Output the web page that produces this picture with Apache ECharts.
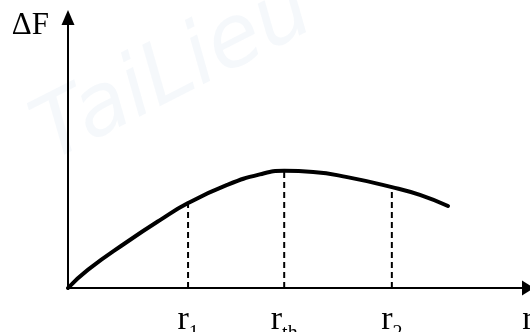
<!DOCTYPE html>
<html>
<head>
<meta charset="utf-8">
<script src="https://cdn.jsdelivr.net/npm/echarts@6/dist/echarts.min.js"></script>
<style>
  html, body { margin: 0; padding: 0; background: #fff; }
  #chart { width: 530px; height: 332px; }
</style>
</head>
<body>
<div id="chart"></div>
<script>
// Free-energy curve ΔF(r): rises from the origin, peaks at r_th, then falls.
const curveR  = [0, 0.43, 1.28, 2.00, 2.61, 3.46, 4.17, 4.70, 5.33, 6.07, 7.04, 7.65, 8.26];
const curveDF = [0, 0.67, 1.70, 2.51, 3.14, 3.81, 4.20, 4.33, 4.29, 4.10, 3.73, 3.44, 3.03];

// Marked radii (r1, r_th, r2) and the curve height at each of them.
const markR  = [2.61, 4.70, 7.04];
const markDF = [3.14, 4.33, 3.73];

// Axis tick labels: main letter plus subscript.
const tickValues = [2.61, 4.70, 7.04, 10];
const tickMain   = ['r', 'r', 'r', 'r'];
const tickSub    = ['1', 'th', '2', ''];

const axisName = 'ΔF';
const watermark = 'TaiLieu';

const serif = '"Liberation Serif", "DejaVu Serif", serif';

const chart = echarts.init(document.getElementById('chart'), null, { renderer: 'canvas' });

const series = [];
markR.forEach(function (x, i) {
  series.push({
    type: 'line',
    data: [[x, 0], [x, markDF[i]]],
    showSymbol: false,
    silent: true,
    z: 2,
    lineStyle: { color: '#000', width: 2, type: [6, 4] }
  });
});
series.push({
  type: 'line',
  data: curveR.map(function (r, i) { return [r, curveDF[i]]; }),
  smooth: 0.5,
  showSymbol: false,
  silent: true,
  z: 3,
  lineStyle: { color: '#000', width: 4, cap: 'round' }
});

chart.setOption({
  animation: false,
  backgroundColor: '#fff',
  graphic: [{
    type: 'text',
    z: -10,
    x: 60,
    y: 180,
    rotation: 0.47,
    style: {
      text: watermark,
      font: 'italic 86px "DejaVu Sans", sans-serif',
      fill: 'rgba(170, 200, 220, 0.12)',
      textVerticalAlign: 'bottom'
    }
  }],
  grid: { left: 68, right: 2, top: 17.5, bottom: 44, outerBoundsMode: 'none', containLabel: false },
  xAxis: {
    type: 'value',
    min: 0,
    max: 10,
    axisLine: {
      show: true,
      symbol: ['none', 'triangle'],
      symbolSize: [15, 12],
      lineStyle: { color: '#000', width: 2 }
    },
    axisTick: { show: false },
    splitLine: { show: false },
    axisLabel: {
      customValues: tickValues,
      showMinLabel: true,
      showMaxLabel: true,
      hideOverlap: false,
      margin: 22,
      formatter: function (value) {
        const i = tickValues.indexOf(value);
        if (i < 0) return '';
        const sub = tickSub[i] ? '{s|' + tickSub[i] + '}' : '';
        return '{m|' + tickMain[i] + '}' + sub;
      },
      rich: {
        m: { fontFamily: serif, fontSize: 34, color: '#000', lineHeight: 34, padding: [0, 0, 14, 0] },
        s: { fontFamily: serif, fontSize: 20, color: '#000', lineHeight: 20, verticalAlign: 'bottom' }
      }
    }
  },
  yAxis: {
    type: 'value',
    min: 0,
    max: 10,
    name: axisName,
    nameLocation: 'end',
    nameGap: -8.5,
    nameTextStyle: {
      fontFamily: serif,
      fontSize: 31,
      color: '#000',
      align: 'right',
      verticalAlign: 'middle',
      padding: [0, 19, 0, 0]
    },
    axisLine: {
      show: true,
      symbol: ['none', 'triangle'],
      symbolSize: [13, 15],
      lineStyle: { color: '#000', width: 2 }
    },
    axisTick: { show: false },
    axisLabel: { show: false },
    splitLine: { show: false }
  },
  series: series
});
</script>
</body>
</html>
